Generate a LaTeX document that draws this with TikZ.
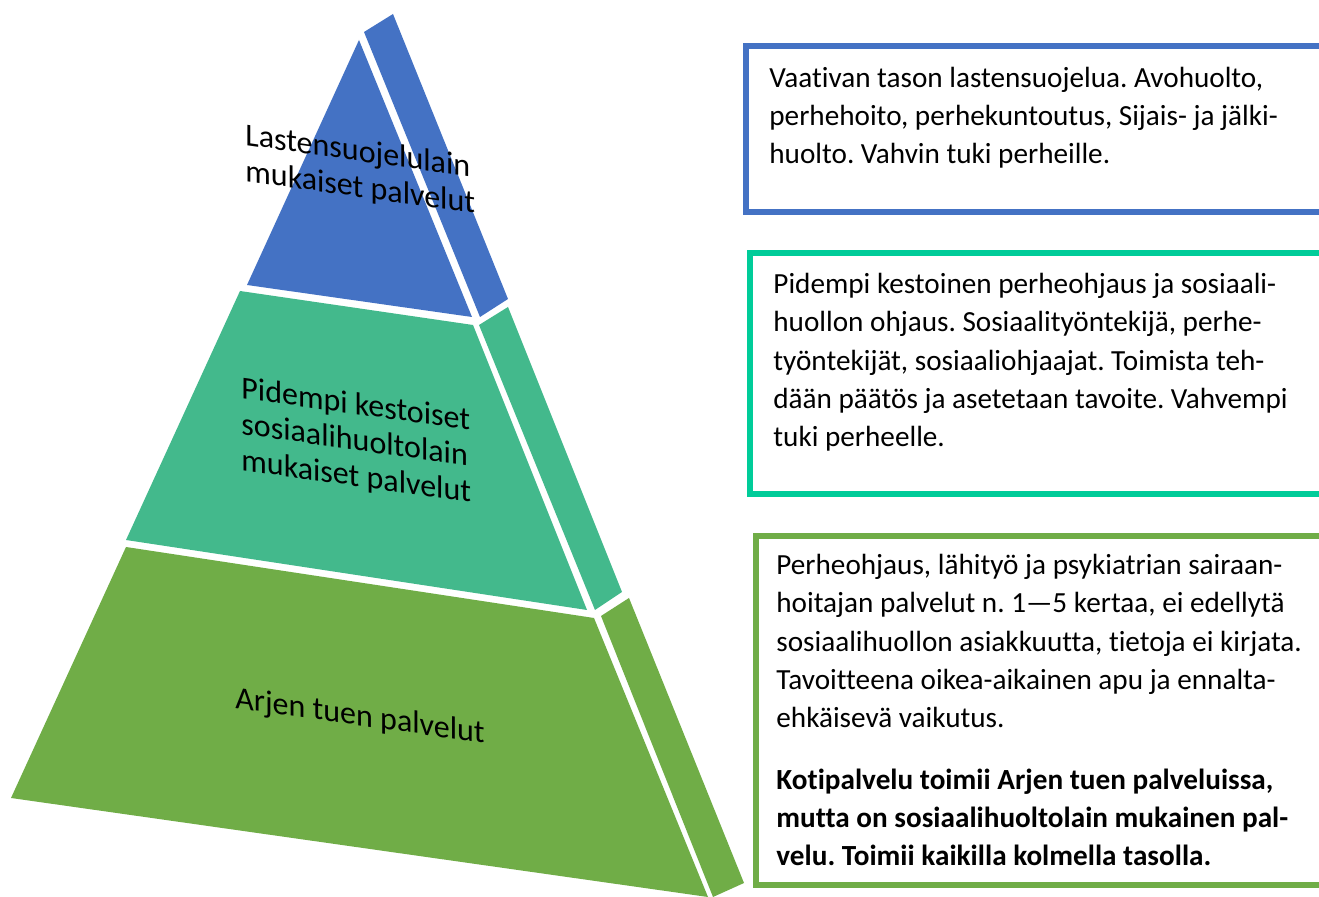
\documentclass[tikz,border=0pt]{standalone}
\usepackage{fontspec}
\setmainfont{Carlito}[Ligatures=NoCommon]
\frenchspacing
\definecolor{pblue}{HTML}{4472C4}
\definecolor{pteal}{HTML}{43B98C}
\definecolor{pgreen}{HTML}{70AD47}
\definecolor{bteal}{HTML}{00CC99}
\tikzset{
  boxtext/.style={anchor=base west, inner sep=0pt, align=left, font=\fontsize{14.6}{19.2}\selectfont},
  pyrtext/.style={anchor=base west, inner sep=0pt, align=left, yslant=-0.141, transform shape, font=\fontsize{16}{18}\selectfont},
  framebox/.style={line width=3pt}
}
\begin{document}
\begin{tikzpicture}[x=0.5pt, y=-0.5pt]
\clip (0,0) rectangle (1319,897);
\fill[white] (0,0) rectangle (1319,897);
% pyramid: top level
\fill[pblue] (359,40) -- (472,317) -- (247,285) -- cycle;
\fill[pblue] (364,32) -- (393,14) -- (508,299) -- (480,317) -- cycle;
% middle level
\fill[pteal] (240,291) -- (473,325) -- (587,610) -- (126,540) -- cycle;
\fill[pteal] (479,325) -- (508,307) -- (622,592) -- (595,610) -- cycle;
% bottom level
\fill[pgreen] (126,547) -- (594,618) -- (708,897) -- (11,798) -- cycle;
\fill[pgreen] (601,616) -- (629,598) -- (744,883) -- (713,897) -- cycle;
% pyramid labels (anchored at the baseline of the last line)
\node[pyrtext] (l1) at (245,181) {Lastensuojelulain\\mukaiset palvelut};
\node[pyrtext] (l2) at (241,470) {Pidempi kestoiset\\sosiaalihuoltolain\\mukaiset palvelut};
\node[pyrtext] (l3) at (235,708) {Arjen tuen palvelut};
% boxes
\draw[framebox, pblue] (1340,46.5) -- (746,46.5) -- (746,212) -- (1340,212);
\draw[framebox, bteal] (1340,253) -- (750,253) -- (750,494) -- (1340,494);
\draw[framebox, pgreen] (1340,536) -- (755.5,536) -- (755.5,885) -- (1340,885);
% box texts (anchored at the baseline of the last line)
\node[boxtext] (t1) at (769,164) {Vaativan tason lastensuojelua. Avohuolto,\\perhehoito, perhekuntoutus, Sijais- ja jälki-\\huolto. Vahvin tuki perheille.};
\node[boxtext] (t2) at (773,447) {Pidempi kestoinen perheohjaus ja sosiaali-\\huollon ohjaus. Sosiaalityöntekijä, perhe-\\työntekijät, sosiaaliohjaajat. Toimista teh-\\dään päätös ja asetetaan tavoite. Vahvempi\\tuki perheelle.};
\node[boxtext] (t3) at (776,728) {Perheohjaus, lähityö ja psykiatrian sairaan-\\hoitajan palvelut n. 1—5 kertaa, ei edellytä\\sosiaalihuollon asiakkuutta, tietoja ei kirjata.\\Tavoitteena oikea-aikainen apu ja ennalta-\\ehkäisevä vaikutus.};
\node[boxtext, font=\bfseries\fontsize{14.6}{19.2}\selectfont] (t4) at (776,866) {Kotipalvelu toimii Arjen tuen palveluissa,\\mutta on sosiaalihuoltolain mukainen pal-\\velu. Toimii kaikilla kolmella tasolla.};
\end{tikzpicture}
\end{document}
